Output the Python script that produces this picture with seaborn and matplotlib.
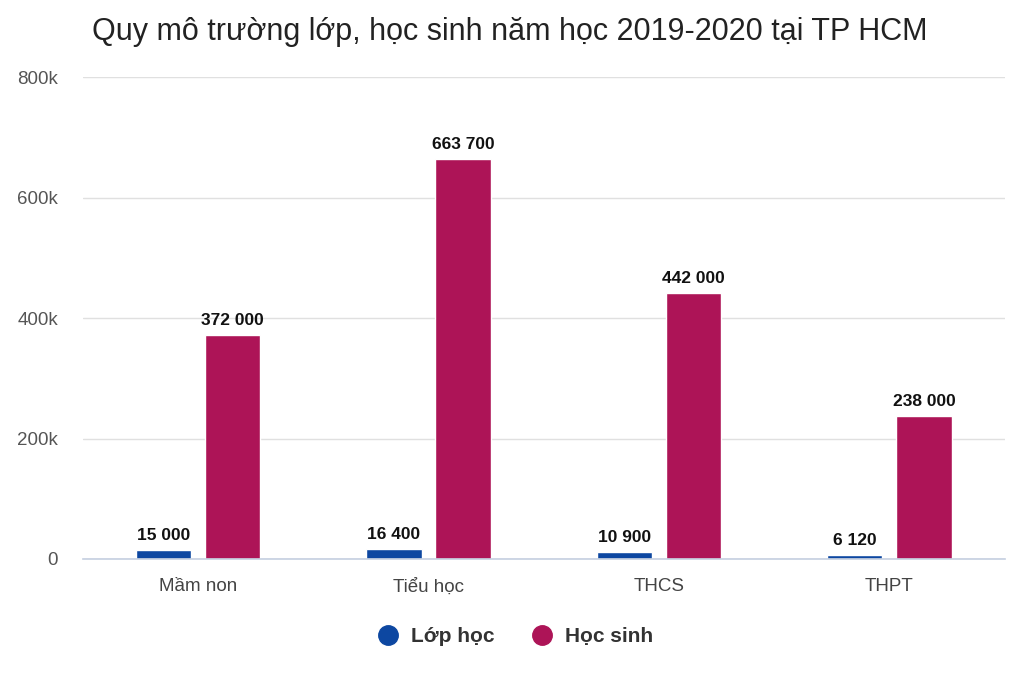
import pandas as pd
import matplotlib
matplotlib.use('Agg')
import matplotlib.pyplot as plt
import seaborn as sns
from matplotlib.lines import Line2D

# Data
categories = ['Mầm non', 'Tiểu học', 'THCS', 'THPT']
lop_hoc = [15000, 16400, 10900, 6120]
hoc_sinh = [372000, 663700, 442000, 238000]
series_names = ['Lớp học', 'Học sinh']
colors = ['#0d47a1', '#ad1457']

df = pd.DataFrame({
    'category': categories * 2,
    'value': lop_hoc + hoc_sinh,
    'series': [series_names[0]] * 4 + [series_names[1]] * 4,
})

sns.set_theme(style='white')
plt.rcParams['font.family'] = ['Liberation Sans', 'DejaVu Sans']

fig = plt.figure(figsize=(10.24, 6.83), dpi=100)
ax = fig.add_axes([0.081, 0.1816, 0.9, 0.7054])

sns.barplot(data=df, x='category', y='value', hue='series', order=categories,
            hue_order=series_names, palette=colors, width=0.6, gap=0.2,
            saturation=1, legend=False, ax=ax)

def fmt(v):
    return f'{v:,}'.replace(',', ' ')

for container in ax.containers:
    ax.bar_label(container, labels=[fmt(int(b.get_height())) for b in container],
                 padding=5, fontsize=12.5, fontweight='bold', color='#111111')

ax.set_xlim(-0.5, 3.5)
ax.set_ylim(0, 800000)
ax.set_yticks([0, 200000, 400000, 600000, 800000])
ax.set_yticklabels(['0', '200k', '400k', '600k', '800k'])
ax.yaxis.grid(True, color='#e0e0e0', linewidth=1)
ax.set_axisbelow(True)
for s in ['top', 'right', 'left']:
    ax.spines[s].set_visible(False)
ax.spines['bottom'].set_color('#c5cfe0')
ax.spines['bottom'].set_linewidth(1.2)
ax.tick_params(axis='y', length=0, labelsize=13.5, labelcolor='#555555', pad=18)
ax.tick_params(axis='x', length=0, labelsize=13.5, labelcolor='#444444', pad=14)
ax.set_xlabel('')
ax.set_ylabel('')

fig.text(0.09, 0.953, 'Quy mô trường lớp, học sinh năm học 2019-2020 tại TP HCM',
         fontsize=22, color='#222222', ha='left', va='center')

handles = [Line2D([0], [0], marker='o', linestyle='', markersize=14,
                  markerfacecolor=c, markeredgecolor=c) for c in colors]
leg = fig.legend(handles, series_names, loc='center', bbox_to_anchor=(0.498, 0.068),
                 ncol=2, frameon=False, handletextpad=0.1, columnspacing=1.3,
                 prop={'size': 15, 'weight': 'bold'})
for t in leg.get_texts():
    t.set_color('#333333')

plt.savefig('out.png', dpi=100)
